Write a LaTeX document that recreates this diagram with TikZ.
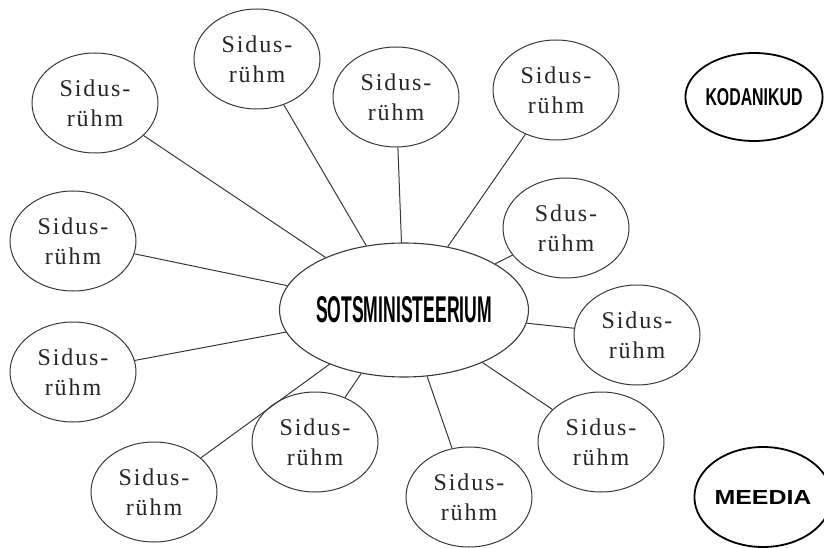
\documentclass[tikz,border=0pt]{standalone}
\usepackage{fontspec}
\setmainfont{Liberation Serif}[LetterSpace=8]
\newfontfamily\headfont{Liberation Sans}
\usetikzlibrary{shapes.geometric}
\definecolor{linegray}{gray}{0.22}
\tikzset{
  sat/.style={ellipse, draw=linegray, line width=1pt, minimum width=126pt, minimum height=100pt,
    inner sep=0pt, align=center, font=\fontsize{24}{30}\selectfont, text=black!85},
  big/.style={ellipse, draw=black, line width=1.8pt, inner sep=0pt},
  link/.style={draw=linegray, line width=1pt}
}
\begin{document}
\begin{tikzpicture}[x=1pt,y=-1pt]
\useasboundingbox (0,0) rectangle (824,548);
\node[ellipse, draw=linegray, line width=1.1pt, minimum width=206pt, minimum height=134pt, inner sep=0pt] (c) at (404,310)
  {\resizebox{176pt}{26pt}{\headfont\bfseries SOTSMINISTEERIUM}};
\node[sat] (s1) at (95,103) {Sidus-\\rühm};
\node[sat] (s2) at (257,59) {Sidus-\\rühm};
\node[sat] (s3) at (396,97) {Sidus-\\rühm};
\node[sat] (s4) at (556,90) {Sidus-\\rühm};
\node[sat] (s5) at (566,228) {Sdus-\\rühm};
\node[sat] (s6) at (637,335) {Sidus-\\rühm};
\node[sat] (s7) at (601,442) {Sidus-\\rühm};
\node[sat] (s8) at (469,497) {Sidus-\\rühm};
\node[sat] (s9) at (315,442) {Sidus-\\rühm};
\node[sat] (s10) at (154,492) {Sidus-\\rühm};
\node[sat] (s11) at (73,372) {Sidus-\\rühm};
\node[sat] (s12) at (73,241) {Sidus-\\rühm};
\node[big, minimum width=124pt, minimum height=88pt] (kod) at (754,97)
  {\resizebox{97pt}{17pt}{\headfont\bfseries KODANIKUD}};
\node[big, minimum width=114pt, minimum height=100pt] (med) at (763,497)
  {\resizebox{97pt}{14pt}{\headfont\bfseries MEEDIA}};
\foreach \s in {s1,s2,s3,s4,s5,s6,s7,s8,s9,s10,s11,s12}
  \draw[link] (c) -- (\s);
\end{tikzpicture}
\end{document}
